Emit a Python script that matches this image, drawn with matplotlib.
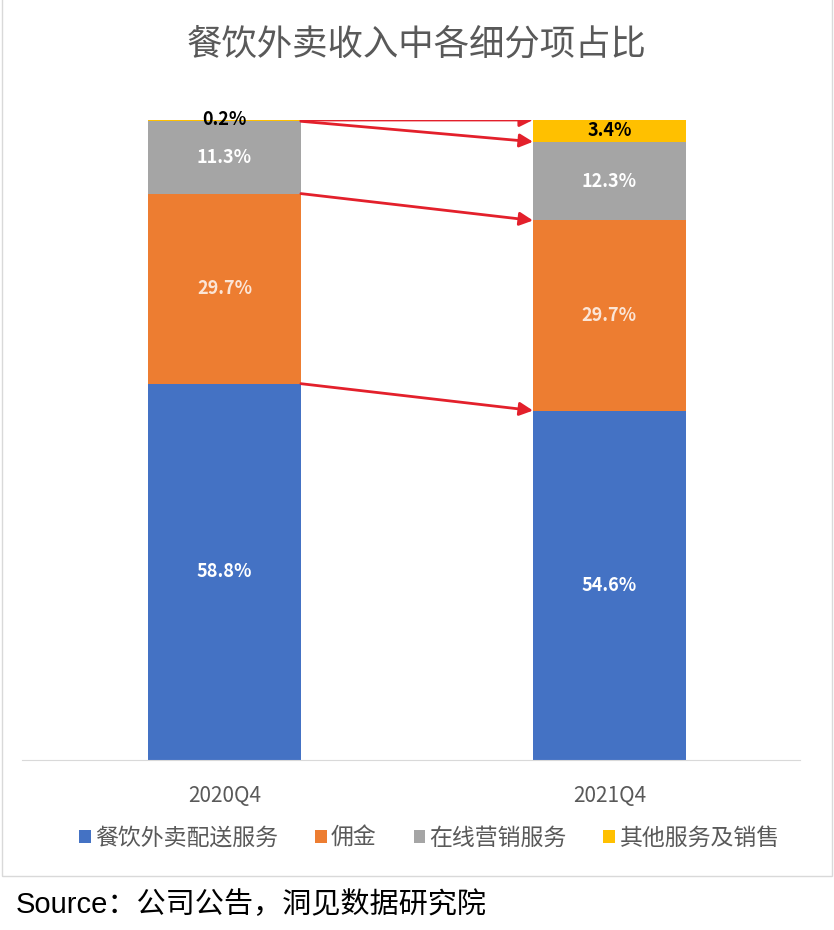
import matplotlib
matplotlib.use('Agg')
import matplotlib.pyplot as plt
from matplotlib.patches import Rectangle, FancyArrowPatch
import numpy as np

plt.rcParams['font.family'] = ['Noto Sans CJK SC', 'DejaVu Sans']

periods = ['2020Q4', '2021Q4']
segments = ['餐饮外卖配送服务', '佣金', '在线营销服务', '其他服务及销售']
shares = {
    '餐饮外卖配送服务': [58.8, 54.6],
    '佣金': [29.7, 29.7],
    '在线营销服务': [11.3, 12.3],
    '其他服务及销售': [0.2, 3.4],
}
colors = ['#4472C4', '#ED7D31', '#A5A5A5', '#FFC000']
label_colors = ['white', '#FBE5D6', 'white', 'black']

fig = plt.figure(figsize=(8.34, 9.30), dpi=100)
ax = fig.add_axes([22 / 834, 170 / 930, 778 / 834, 640 / 930])

x = np.arange(len(periods))
width = 0.397
bottom = np.zeros(len(periods))
tops = []
for seg, col, lc in zip(segments, colors, label_colors):
    vals = np.array(shares[seg])
    ax.bar(x, vals, width, bottom=bottom, color=col, label=seg, zorder=2)
    for i, v in enumerate(vals):
        if v < 1:
            ypos = bottom[i] + v
            c = 'black'
        else:
            ypos = bottom[i] + v / 2
            c = lc
        ax.text(x[i], ypos, f'{v:.1f}%', ha='center', va='center',
                color=c, fontsize=13, fontweight='bold', zorder=4)
    bottom = bottom + vals
    tops.append(bottom.copy())

# red arrows linking segment boundaries between the two bars
for t in tops:
    arr = FancyArrowPatch((x[0] + width / 2, t[0]), (x[1] - width / 2, t[1]),
                          arrowstyle='-|>', mutation_scale=20, color='#E3202B',
                          lw=2, shrinkA=0, shrinkB=0, zorder=5)
    ax.add_patch(arr)

ax.set_xlim(-0.526, 1.495)
ax.set_ylim(0, 100)
ax.set_yticks([])
ax.set_xticks(x)
ax.set_xticklabels(periods, fontsize=15, color='#595959')
ax.tick_params(axis='x', length=0, pad=18)
for s in ['top', 'right', 'left']:
    ax.spines[s].set_visible(False)
ax.spines['bottom'].set_color('#D9D9D9')

fig.text(0.5, 1 - 45 / 930, '餐饮外卖收入中各细分项占比', ha='center', va='center',
         fontsize=25.5, color='#595959')

handles, labels = ax.get_legend_handles_labels()
fig.legend(handles, labels, loc='center', bbox_to_anchor=(0.515, 1 - 838 / 930),
           ncol=4, frameon=False, fontsize=16.5, handlelength=0.5, handleheight=0.5,
           handletextpad=0.2, columnspacing=1.6, labelcolor='#595959')

fig.patches.append(Rectangle((2 / 834, 54 / 930), 830 / 834, 1.0, transform=fig.transFigure,
                             fill=False, edgecolor='#D9D9D9', lw=1))

fig.text(16 / 834, 1 - 905 / 930, 'Source：公司公告，洞见数据研究院', ha='left', va='center',
         fontsize=21, color='black', family=['Liberation Sans', 'Noto Sans CJK SC'])

fig.savefig('out.png', dpi=100)
